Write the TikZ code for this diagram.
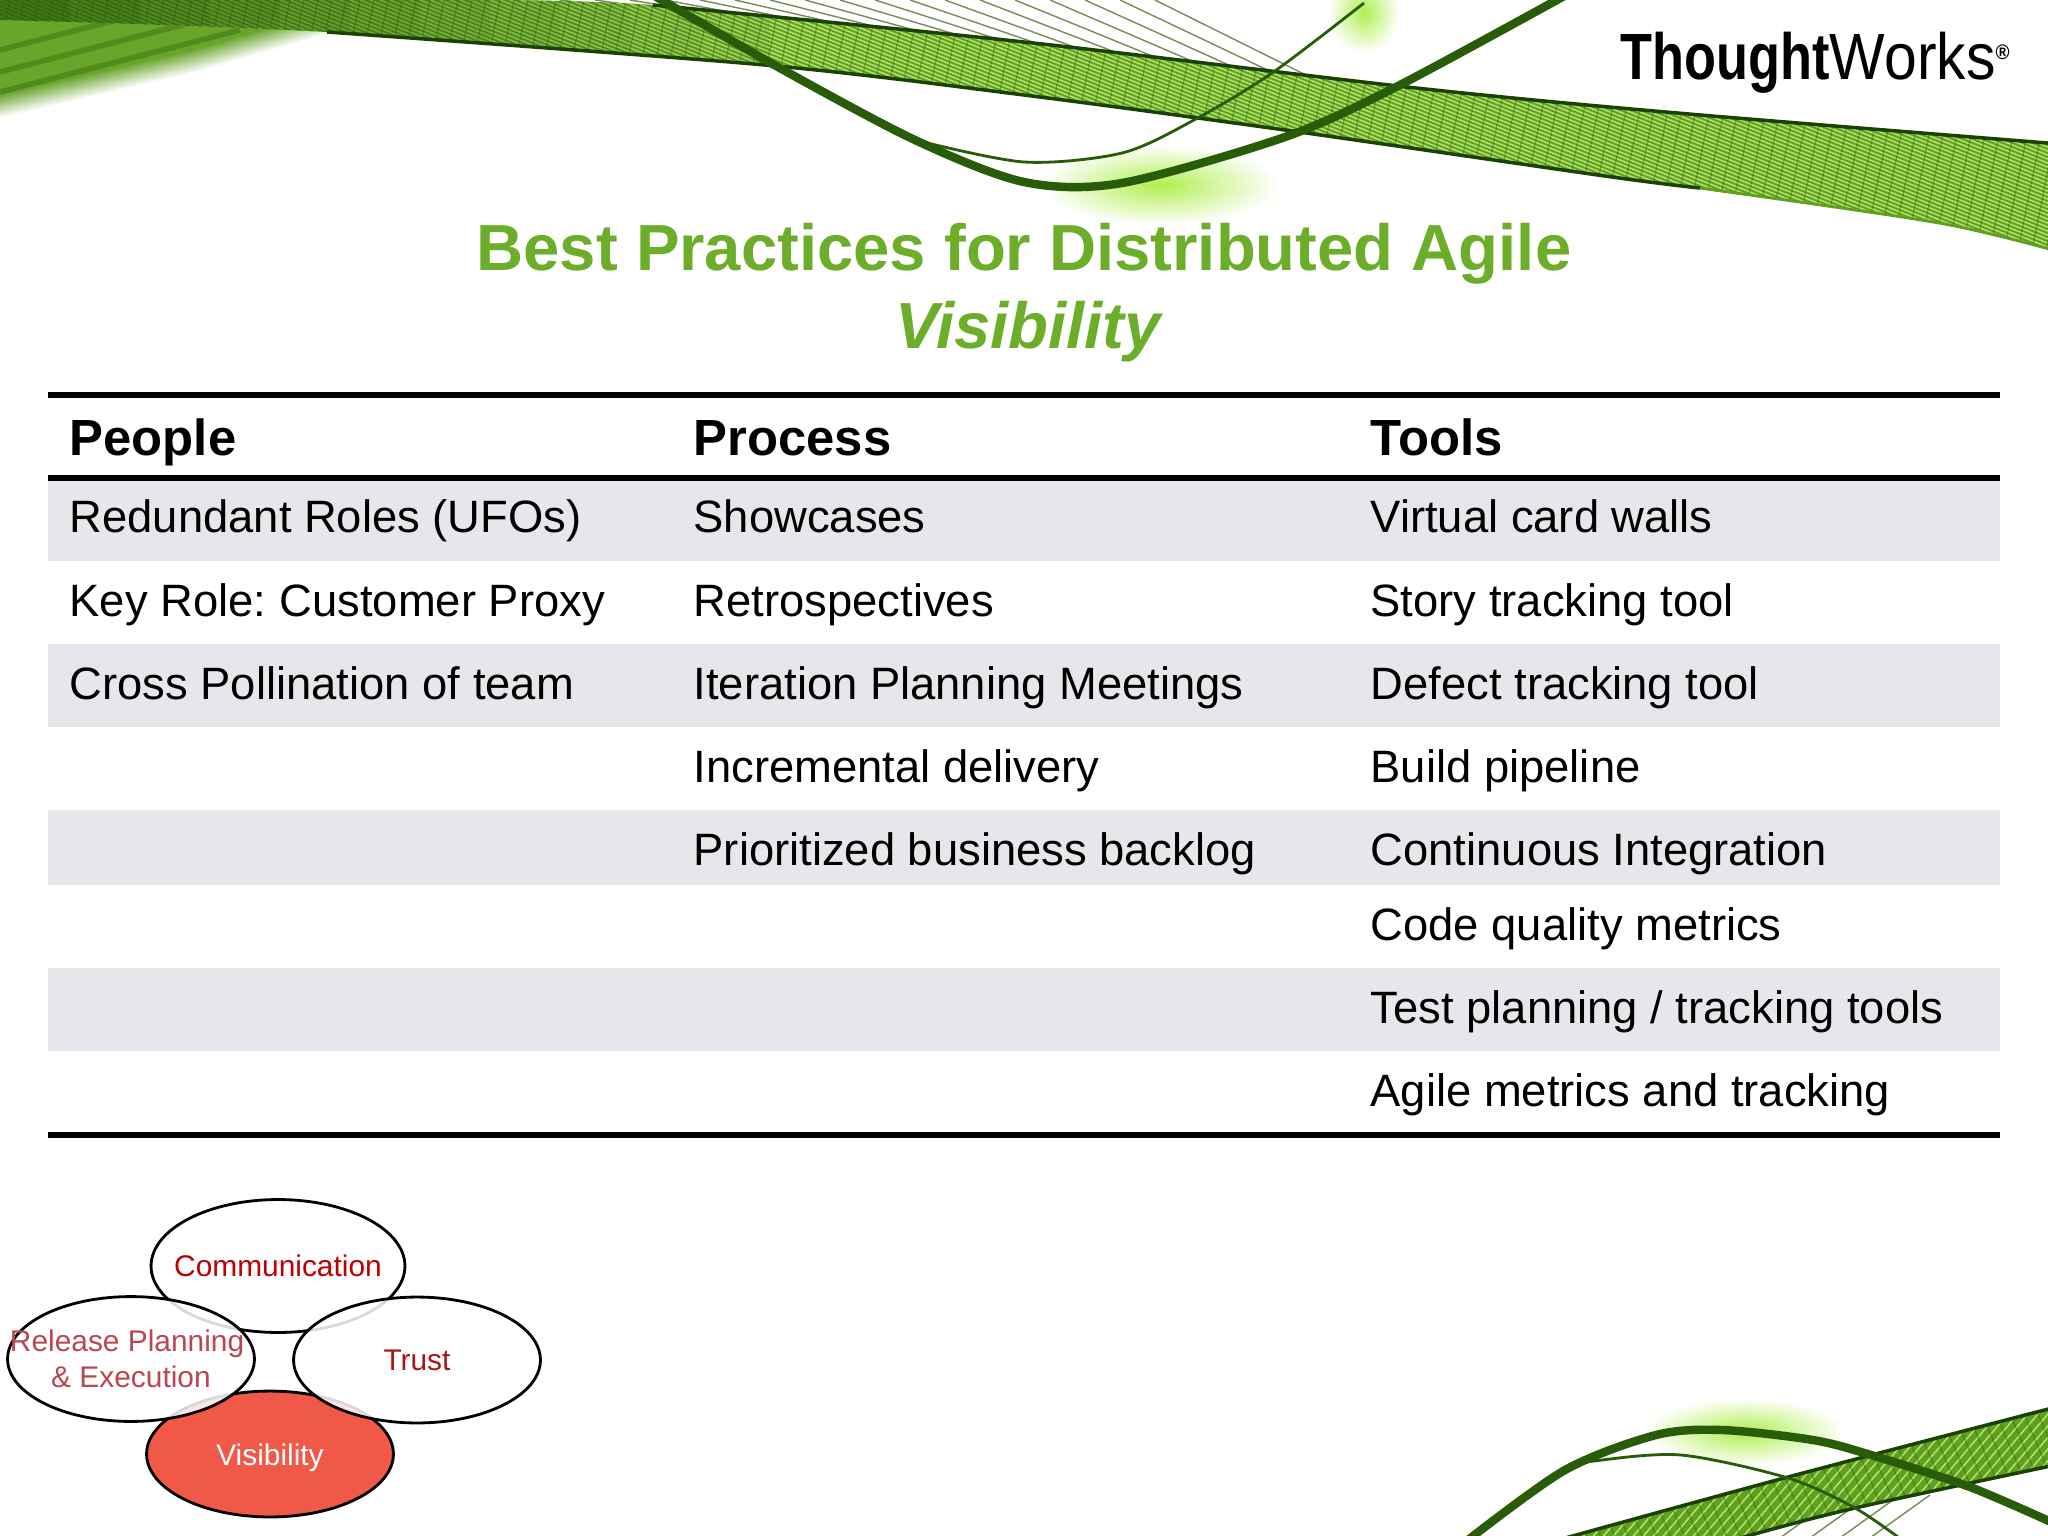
\documentclass[tikz,border=0pt]{standalone}
\usepackage{fontspec}
\setmainfont{Liberation Sans}
\newfontfamily\logofont[FakeStretch=0.8]{Liberation Sans}
\newfontfamily\logolight[FakeStretch=0.9]{Liberation Sans}
\usetikzlibrary{arrows,calc,positioning,shapes}
\definecolor{my_green}{RGB}{108, 174, 42}
\definecolor{my_leaf}{RGB}{96, 160, 32}
\definecolor{my_light}{RGB}{176, 224, 104}
\definecolor{my_glow}{RGB}{176, 238, 80}
\definecolor{my_dark}{RGB}{40, 92, 8}
\definecolor{my_wire}{RGB}{120, 140, 90}
\definecolor{my_row}{RGB}{232, 230, 234}
\definecolor{my_red}{RGB}{192, 0, 0}
\definecolor{my_rose}{RGB}{186, 70, 80}
\definecolor{my_trust}{RGB}{176, 20, 24}
\definecolor{my_coral}{RGB}{240, 88, 72}
\tikzset{
  title_text/.style = {align=center, text=my_green, font=\fontsize{18.55}{22}\selectfont\bfseries},
  head_text/.style = {anchor=base west, inner sep=0pt, font=\fontsize{14.45}{17}\selectfont\bfseries},
  cell_text/.style = {anchor=base west, inner sep=0pt, font=\fontsize{12.9}{16}\selectfont},
  row_band/.style = {fill=my_row, draw=none},
  table_rule/.style = {line width=1.7pt, black},
  oval_n/.style = {draw=black, line width=0.8pt, ellipse, inner sep=-10pt, font=\fontsize{8.5}{10.4}\selectfont, align=center},
  oval_w/.style = {oval_n, fill=white, fill opacity=0.85, text opacity=1},
  edge_n/.style = {my_dark!70!black, line width=1pt},
  curve_m/.style = {my_dark, line width=2.4pt, line cap=round},
  curve_t/.style = {my_dark, line width=0.8pt},
  wire_n/.style = {my_wire, line width=0.4pt}
}
\newcommand{\topband}{plot[smooth] coordinates {(457,0) (653,5) (1024,42) (1416,88) (1677,113) (2060,144)} -- plot[smooth] coordinates {(2060,252) (1939,223) (1612,177) (1285,130) (1024,95) (765,65) (327,32) (0,20)} -- (0,0) -- cycle}
\newcommand{\lowband}{plot[smooth] coordinates {(1540,1545) (1788,1477) (2060,1406)} -- plot[smooth] coordinates {(2060,1464) (1855,1508) (1751,1535) (1720,1545)} -- cycle}
\begin{document}
\begin{tikzpicture}[x=0.01cm,y=-0.01cm]
  \useasboundingbox (0,0) rectangle (2048,1536);
  \fill[white] (0,0) rectangle (2048,1536);
  % banner
  \begin{scope}
    \clip (0,0) rectangle (2048,1536);
    \shade[inner color=my_glow, outer color=white] (1160,185) ellipse (120 and 40);
    \shade[inner color=my_glow, outer color=white] (1364,12) ellipse (36 and 42);
    \shade[inner color=my_glow, outer color=white] (1745,1432) ellipse (100 and 34);
    \foreach \k [evaluate=\k as \s using {\k*1.5}, evaluate=\k as \c using {5+\k*6}] in {0,...,15}
      \fill[my_leaf!\c!white] (0,118-\s) -- (196,72-\s) -- (330,33-\s) -- (470,-5) -- (0,-5) -- cycle;
    \foreach \y in {50,72,92}
      \draw[my_dark, opacity=0.35, line width=1.6pt] (0,\y) -- ++(240,-62);
    \foreach \x [evaluate=\x as \s using {0.12+(\x-560)/600*0.38}] in {560,595,...,1160}
      \draw[wire_n] (\x,0) -- ({\x+85/\s},85);
    \begin{scope}
      \clip \topband;
      \fill[my_leaf] (0,0) rectangle (2060,260);
      \foreach \x in {-800,-790,...,2100}
        \draw[my_light, line width=0.45pt] (\x,0) -- ++(800,320);
      \foreach \x in {0,14,...,2100}
        \draw[my_dark, opacity=0.4, line width=0.35pt] (\x,-20) -- ++(-60,300);
      \foreach \k [evaluate=\k as \o using {0.8-\k*0.07}] in {0,...,10}
        \fill[my_dark, opacity=\o] (\k*70,0) rectangle ({(\k+1)*70},70);
    \end{scope}
    \draw[edge_n] plot[smooth] coordinates {(653,5) (1024,42) (1416,88) (1677,113) (2060,144)};
    \draw[edge_n] plot[smooth] coordinates {(1700,188) (1612,177) (1285,130) (1024,95) (765,65) (327,32)};
    \draw[my_leaf, line width=0.8pt] plot[smooth] coordinates {(1700,188) (1939,223) (2060,252)};
    \draw[curve_t] plot[smooth] coordinates {(915,140) (1024,162) (1122,153) (1194,120) (1272,73) (1364,3)};
    \draw[curve_m] plot[smooth] coordinates {(653,-5) (778,67) (915,140) (1024,182) (1122,183) (1285,137) (1396,87) (1566,-5)};
    \foreach \x in {1770,1800,...,1860}
      \draw[wire_n] (\x,1545) -- ++(70,-50);
    \begin{scope}
      \clip \lowband;
      \fill[my_leaf] (1500,1400) rectangle (2060,1545);
      \foreach \x in {1500,1510,...,2200}
        \draw[my_light, line width=0.45pt] (\x,1400) -- ++(-120,140);
      \foreach \x in {1500,1514,...,2100}
        \draw[my_dark, opacity=0.4, line width=0.35pt] (\x,1400) -- ++(60,140);
    \end{scope}
    \draw[edge_n] plot[smooth] coordinates {(1540,1545) (1788,1477) (2060,1406)};
    \draw[edge_n] plot[smooth] coordinates {(2060,1464) (1855,1508) (1751,1535) (1720,1545)};
    \draw[curve_t] plot[smooth] coordinates {(1570,1468) (1594,1461) (1681,1455) (1788,1478) (1855,1508) (1902,1540)};
    \draw[curve_m] plot[smooth] coordinates {(1468,1540) (1565,1470) (1656,1435) (1722,1430) (1813,1440) (1871,1455) (1970,1487) (2060,1526)};
  \end{scope}
  \node[inner sep=0pt, anchor=base west, font=\fontsize{18.6}{20}\selectfont] (logo) at (1620,79) {\logofont\textbf{Thought}\logolight Works\raisebox{0.3em}{\fontsize{6}{7}\selectfont\textbf{®}}};
  % title
  \node[title_text] (title) at (1024,254) {Best Practices for Distributed Agile};
  \node[title_text, font=\fontsize{18.55}{22}\selectfont\bfseries\itshape] (subtitle) at (1028,332) {Visibility};
  % table
  \fill[row_band] (48,478) rectangle (2000,561);
  \fill[row_band] (48,644) rectangle (2000,727);
  \fill[row_band] (48,810) rectangle (2000,885);
  \fill[row_band] (48,968) rectangle (2000,1051);
  \draw[table_rule] (48,395) -- (2000,395);
  \draw[table_rule] (48,478) -- (2000,478);
  \draw[table_rule] (48,1135) -- (2000,1135);
  \node[head_text] (people) at (69,455) {People};
  \node[head_text] (process) at (693,455) {Process};
  \node[head_text] (tools) at (1370,455) {Tools};
  \node[cell_text] (p1) at (69,532) {Redundant Roles (UFOs)};
  \node[cell_text] (p2) at (69,616) {Key Role:\kern0.2pt\ Customer Proxy};
  \node[cell_text] (p3) at (69,699) {Cross Pollination of team};
  \node[cell_text] (r1) at (693,532) {Showcases};
  \node[cell_text] (r2) at (693,616) {Retrospectives};
  \node[cell_text] (r3) at (693,699) {Iteration Planning Meetings};
  \node[cell_text] (r4) at (693,782) {Incremental delivery};
  \node[cell_text] (r5) at (693,865) {Prioritized business backlog};
  \node[cell_text] (t1) at (1370,532) {Virtual card walls};
  \node[cell_text] (t2) at (1370,616) {Story tracking tool};
  \node[cell_text] (t3) at (1370,699) {Defect tracking tool};
  \node[cell_text] (t4) at (1370,782) {Build pipeline};
  \node[cell_text] (t5) at (1370,865) {Continuous Integration};
  \node[cell_text] (t6) at (1370,940) {Code quality metrics};
  \node[cell_text] (t7) at (1370,1023) {Test planning / tracking tools};
  \node[cell_text] (t8) at (1370,1106) {Agile metrics and tracking};
  % ovals
  \node[oval_n, minimum width=72.2pt, minimum height=37.8pt, text=my_red] (comm) at (278,1266) {Communication};
  \node[oval_n, minimum width=70.2pt, minimum height=35.8pt, fill=my_coral, text=white] (vis) at (270,1454) {\raisebox{-3.3pt}[0pt][0pt]{Visibility}};
  \node[oval_w, minimum width=70.2pt, minimum height=35.5pt, text=my_rose] (rel) at (131,1359) {Release Planning\kern2.2pt\\\& Execution};
  \node[oval_w, minimum width=70.2pt, minimum height=35.8pt, text=my_trust] (trust) at (417,1360) {Trust};
\end{tikzpicture}
\end{document}
